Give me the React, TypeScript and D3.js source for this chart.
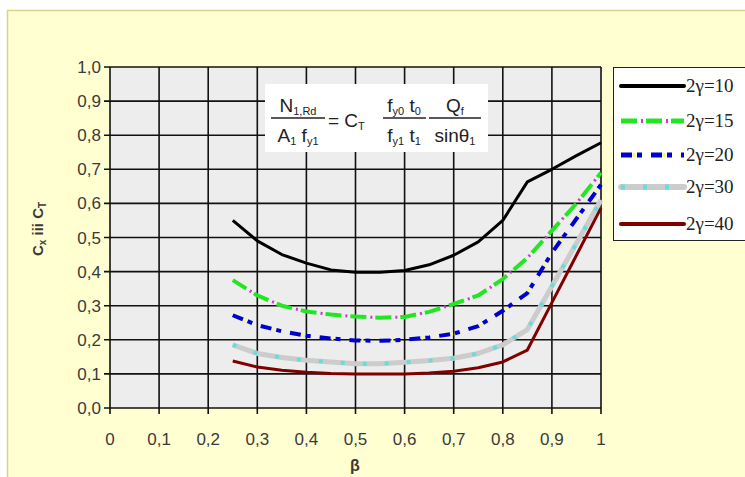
import React from "react";
import * as d3 from "d3";

const betas = [0.25, 0.3, 0.35, 0.4, 0.45, 0.5, 0.55, 0.6, 0.65, 0.7, 0.75, 0.8, 0.85, 0.9, 0.95, 1.0];
const g10 = [0.55, 0.49, 0.45, 0.425, 0.405, 0.398, 0.398, 0.403, 0.42, 0.448, 0.487, 0.55, 0.663, 0.70, 0.74, 0.778];
const g15 = [0.375, 0.33, 0.30, 0.283, 0.274, 0.268, 0.265, 0.267, 0.282, 0.305, 0.33, 0.378, 0.44, 0.52, 0.60, 0.69];
const g20 = [0.272, 0.243, 0.225, 0.212, 0.204, 0.198, 0.197, 0.2, 0.207, 0.218, 0.24, 0.285, 0.337, 0.455, 0.555, 0.655];
const g30 = [0.185, 0.16, 0.148, 0.14, 0.135, 0.13, 0.13, 0.134, 0.139, 0.146, 0.16, 0.185, 0.23, 0.357, 0.483, 0.61];
const g40 = [0.138, 0.12, 0.111, 0.105, 0.101, 0.1, 0.1, 0.1, 0.103, 0.108, 0.118, 0.135, 0.17, 0.309, 0.448, 0.587];
const seriesNames = ["2γ=10", "2γ=15", "2γ=20", "2γ=30", "2γ=40"];
const xTicks = [0, 0.1, 0.2, 0.3, 0.4, 0.5, 0.6, 0.7, 0.8, 0.9, 1];
const yTicks = [0, 0.1, 0.2, 0.3, 0.4, 0.5, 0.6, 0.7, 0.8, 0.9, 1.0];

const x = d3.scaleLinear().domain([0, 1]).range([110, 601]);
const y = d3.scaleLinear().domain([0, 1]).range([408, 67]);

type Layer = { stroke: string; width: number; dash?: string; offset?: number };
const styles: Layer[][] = [
  [{ stroke: "#000000", width: 3 }],
  [
    { stroke: "#22e622", width: 4, dash: "16 9" },
    { stroke: "#c040c0", width: 3, dash: "2 23", offset: -20 },
  ],
  [
    { stroke: "#0000cc", width: 4, dash: "11 5 5 9" },
    { stroke: "#ffff44", width: 3, dash: "2 28", offset: -12 },
  ],
  [
    { stroke: "#cccccc", width: 5 },
    { stroke: "#66dddd", width: 4, dash: "4 18" },
  ],
  [{ stroke: "#800000", width: 3 }],
];
const allSeries = [g10, g15, g20, g30, g40];

const fmt = (v: number) => (v === 0 ? "0" : v === 1 ? "1" : String(v).replace(".", ","));
const fmtY = (v: number) => v.toFixed(1).replace(".", ",");

export default function App() {
  const line = d3
    .line<number>()
    .x((_, i) => x(betas[i]))
    .y((d) => y(d));
  const font = "'Liberation Sans', Arial, sans-serif";
  const serif = "'Liberation Serif', 'Times New Roman', serif";
  return (
    <svg width={745} height={477} style={{ position: "absolute", left: 0, top: 0 }}>
      <rect x={0} y={0} width={745} height={477} fill="#ffffff" />
      <rect x={7.5} y={10.5} width={745} height={475} fill="#ffffd2" stroke="#d6d68a" strokeWidth={1.5} />
      <rect x={x(0)} y={y(1)} width={x(1) - x(0)} height={y(0) - y(1)} fill="#ededed" />
      {xTicks.map((t) => (
        <line key={"vx" + t} x1={x(t)} x2={x(t)} y1={y(1)} y2={y(0) + 6} stroke="#111" strokeWidth={1.6} />
      ))}
      {yTicks.map((t) => (
        <line key={"hy" + t} x1={x(0) - 6} x2={x(1)} y1={y(t)} y2={y(t)} stroke="#111" strokeWidth={1.6} />
      ))}
      {yTicks.map((t) => (
        <text key={"ly" + t} x={x(0) - 9} y={y(t) + 6} textAnchor="end" fontFamily={font} fontSize={17} fill="#3a3a3a">
          {fmtY(t)}
        </text>
      ))}
      {xTicks.map((t) => (
        <text key={"lx" + t} x={x(t)} y={445} textAnchor="middle" fontFamily={font} fontSize={17} fill="#3a3a3a">
          {fmt(t)}
        </text>
      ))}
      <text x={355} y={471} textAnchor="middle" fontFamily={font} fontSize={16} fontWeight="bold" fill="#3a3a3a">
        β
      </text>
      <text transform="translate(43,229) rotate(-90)" textAnchor="middle" fontFamily={font} fontSize={15} fontWeight="bold" fill="#3a3a3a">
        C<tspan fontSize={10} dy={3}>x</tspan>
        <tspan dy={-3}> iii C</tspan>
        <tspan fontSize={10} dy={3}>T</tspan>
      </text>

      {/* formula box */}
      <rect x={265} y={84} width={223} height={68} fill="#ffffff" />
      <g fontFamily={font} fill="#222">
        <text x={298} y={112} textAnchor="middle" fontSize={19}>
          N<tspan fontSize={11} dy={3}>1,Rd</tspan>
        </text>
        <line x1={271} x2={325} y1={118} y2={118} stroke="#222" strokeWidth={1.3} />
        <text x={298} y={142} textAnchor="middle" fontSize={19}>
          A<tspan fontSize={11} dy={3}>1</tspan>
          <tspan dy={-3}> f</tspan>
          <tspan fontSize={11} dy={3}>y1</tspan>
        </text>
        <text x={328} y={127} fontSize={19}>
          = C<tspan fontSize={11} dy={3}>T</tspan>
        </text>
        <text x={404} y={112} textAnchor="middle" fontSize={19}>
          f<tspan fontSize={11} dy={3}>y0</tspan>
          <tspan dy={-3}> t</tspan>
          <tspan fontSize={11} dy={3}>0</tspan>
        </text>
        <line x1={383} x2={426} y1={118} y2={118} stroke="#222" strokeWidth={1.3} />
        <text x={404} y={142} textAnchor="middle" fontSize={19}>
          f<tspan fontSize={11} dy={3}>y1</tspan>
          <tspan dy={-3}> t</tspan>
          <tspan fontSize={11} dy={3}>1</tspan>
        </text>
        <text x={455} y={112} textAnchor="middle" fontSize={19}>
          Q<tspan fontSize={11} dy={3}>f</tspan>
        </text>
        <line x1={429} x2={481} y1={118} y2={118} stroke="#222" strokeWidth={1.3} />
        <text x={455} y={142} textAnchor="middle" fontSize={19}>
          sinθ<tspan fontSize={11} dy={3}>1</tspan>
        </text>
      </g>

      {allSeries.map((s, si) =>
        styles[si].map((st, li) => (
          <path
            key={"p" + si + "_" + li}
            d={line(s) || ""}
            fill="none"
            stroke={st.stroke}
            strokeWidth={st.width}
            strokeDasharray={st.dash}
            strokeDashoffset={st.offset}
            strokeLinejoin="round"
          />
        ))
      )}

      {/* legend */}
      <rect x={613.5} y={67.5} width={140} height={173} fill="#ffffff" stroke="#222" strokeWidth={1} />
      {seriesNames.map((n, i) => {
        const ly = [86, 121, 155, 187, 224][i];
        return (
          <g key={"lg" + i}>
            {styles[i].map((st, li) => (
              <line
                key={li}
                x1={621}
                x2={684}
                y1={ly}
                y2={ly}
                stroke={st.stroke}
                strokeWidth={st.width + 1}
                strokeDasharray={st.dash}
                strokeDashoffset={st.offset}
                strokeLinecap={li === 0 && !st.dash ? "round" : "butt"}
              />
            ))}
            <text x={686} y={ly + 6} fontFamily={serif} fontSize={19} fill="#222">
              {n}
            </text>
          </g>
        );
      })}
    </svg>
  );
}
